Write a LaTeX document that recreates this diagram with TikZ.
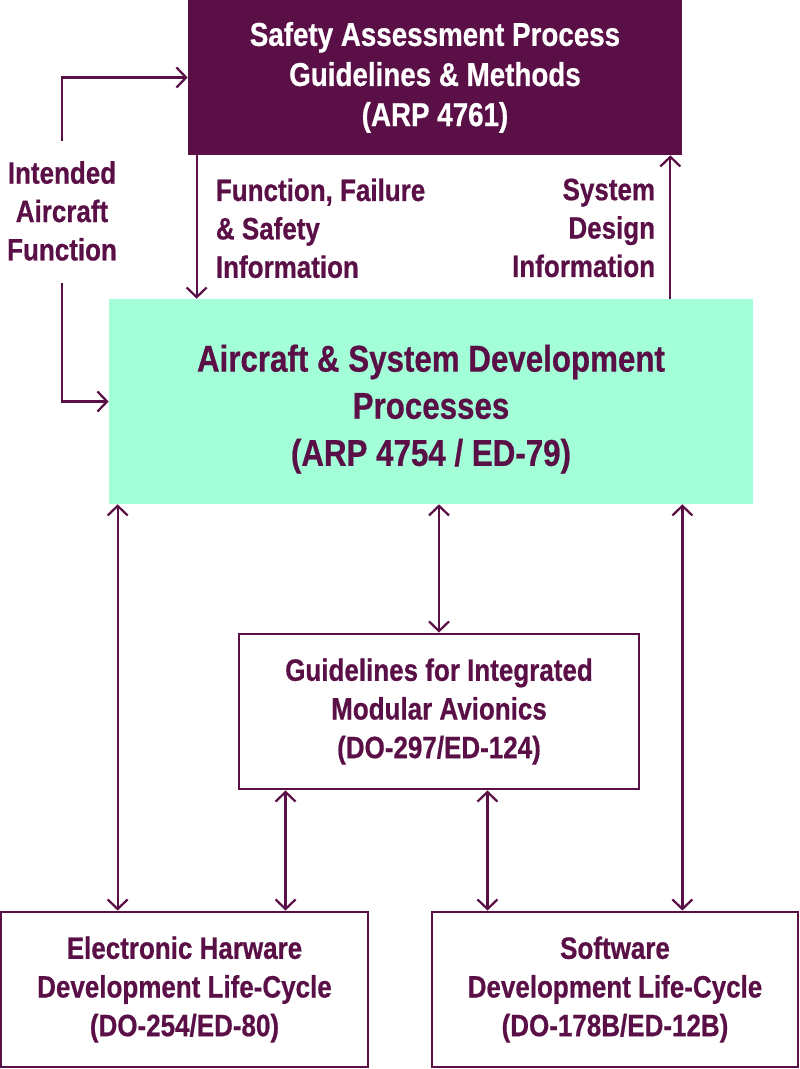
\documentclass[tikz,border=0pt]{standalone}
\usepackage{fontspec}
\setmainfont{Liberation Sans}[FakeStretch=0.84, BoldFeatures={FakeBold=0.6}]
\usepackage{xcolor}
\usetikzlibrary{positioning}
\usetikzlibrary{arrows.meta}
\definecolor{plum}{HTML}{5A1046}
\definecolor{mint}{HTML}{A3FFD8}
\tikzset{>={Straight Barb[length=2.4mm,width=5mm]}}

\begin{document}
\begin{tikzpicture}[x=0.025cm, y=-0.025cm, darkbox/.style={rectangle, fill=plum, text=white, align=center, inner sep=0pt, font=\fontsize{23.5}{28.5}\selectfont\bfseries}, greenbox/.style={rectangle, fill=mint, text=plum, align=center, inner sep=0pt, font=\fontsize{26.5}{33.5}\selectfont\bfseries}, whitebox/.style={rectangle, draw=plum, line width=2pt, text=plum, align=center, inner sep=0pt, font=\fontsize{22}{27.5}\selectfont\bfseries}, lbl/.style={text=plum, inner sep=0pt, font=\fontsize{22}{27.3}\selectfont\bfseries}, link/.style={draw=plum, line width=1.6pt}]
    \useasboundingbox (0,0) rectangle (800,1069);

    %Nodes
    \node[darkbox, minimum width=12.35cm, minimum height=3.875cm](safety) at (435,77.5){Safety Assessment Process\\Guidelines \& Methods\\(ARP 4761)\rule[-5pt]{0pt}{0pt}};
    \node[greenbox, minimum width=16.1cm, minimum height=5.125cm](devproc) at (431,401.5){\rule{0pt}{30pt}Aircraft \& System Development\\Processes\\(ARP 4754 / ED-79)};
    \node[whitebox, minimum width=10cm, minimum height=3.875cm](ima) at (439,711.5){Guidelines for Integrated\\Modular Avionics\\(DO-297/ED-124)};
    \node[whitebox, minimum width=9.175cm, minimum height=3.875cm](hardware) at (184.5,989.5){Electronic Harware\\Development Life-Cycle\\(DO-254/ED-80)};
    \node[whitebox, minimum width=9.15cm, minimum height=3.875cm](software) at (615,989.5){Software\\Development Life-Cycle\\(DO-178B/ED-12B)};

    \node[lbl, align=center](intended_text) at (62,211){Intended\\Aircraft\\Function};
    \node[lbl, align=left, anchor=north west](failure_text) at ([shift={(28,23)}]safety.south west){Function, Failure\\\& Safety\\Information};
    \node[lbl, align=right, anchor=north east](design_text) at ([shift={(-27,23)}]safety.south east){System\\Design\\Information};

    \coordinate (failure_x) at ([shift={(9,0)}]safety.south west);
    \coordinate (design_x) at ([shift={(-12,0)}]safety.south east);
    \coordinate (hw_x) at ([shift={(9,0)}]devproc.south west);
    \coordinate (sw_x) at ([shift={(-71,0)}]devproc.south east);
    \coordinate (ima_hw_x) at ([shift={(48,0)}]ima.south west);
    \coordinate (ima_sw_x) at ([shift={(-153,0)}]ima.south east);

    %Lines
    \draw[link, ->] ([shift={(0,-20)}]intended_text.north) |- (safety.west);
    \draw[link, ->] ([shift={(0,22)}]intended_text.south) |- (devproc.west);
    \draw[link, ->] (failure_x) -- (failure_x |- devproc.north);
    \draw[link, ->] (design_x |- devproc.north) -- (design_x);
    \draw[link, <->] (hw_x) -- (hw_x |- hardware.north);
    \draw[link, <->] (ima.north |- devproc.south) -- (ima.north);
    \draw[link, <->] (sw_x) -- (sw_x |- software.north);
    \draw[link, <->] (ima_hw_x) -- (ima_hw_x |- hardware.north);
    \draw[link, <->] (ima_sw_x) -- (ima_sw_x |- software.north);

\end{tikzpicture}
\end{document}
